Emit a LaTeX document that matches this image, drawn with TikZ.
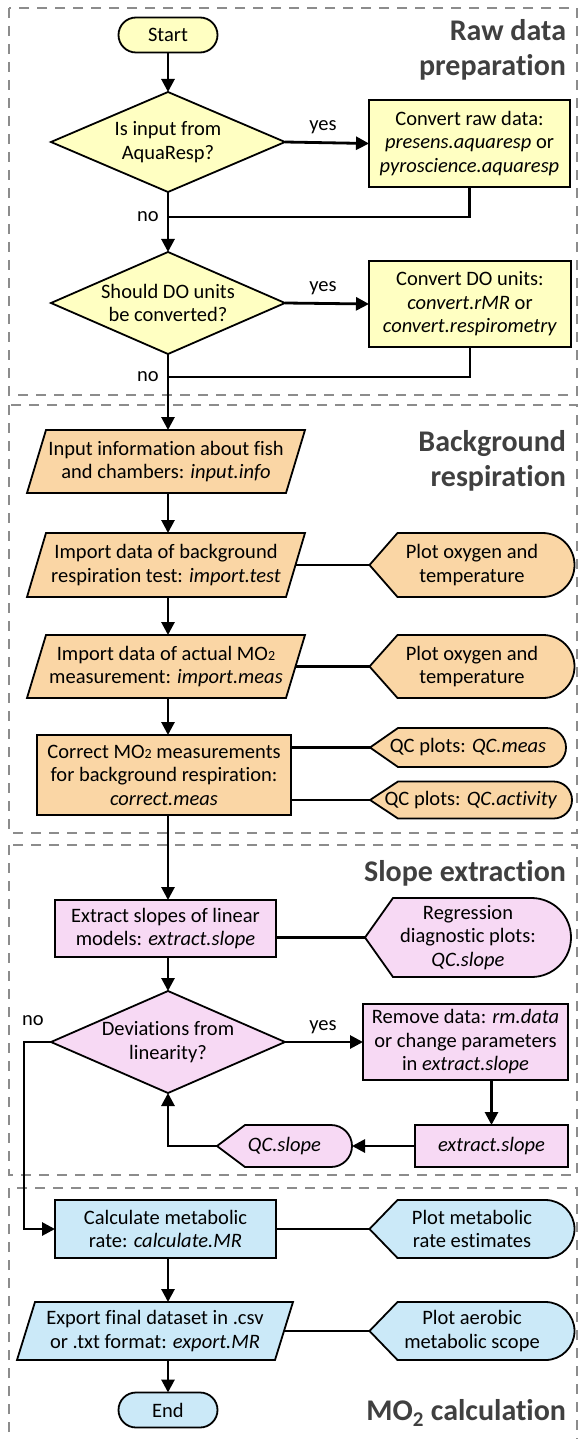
\documentclass[tikz,border=0pt]{standalone}
\usepackage{fontspec}
\setmainfont{Carlito}[Ligatures=NoCommon]
\usetikzlibrary{arrows.meta,shapes.misc,backgrounds}
\definecolor{cyel}{HTML}{FFFFC2}
\definecolor{corg}{HTML}{FAD6A5}
\definecolor{cpnk}{HTML}{F7D9F4}
\definecolor{cblu}{HTML}{CBE9F8}
\definecolor{ctitle}{HTML}{404040}
\definecolor{cframe}{HTML}{8C8C8C}
\newcommand\smtwo{{\fontsize{14}{14}\selectfont 2}}
\newcommand\calloutshape[3]{%
  \draw[outl, fill=#2] (#1.west) -- ([xshift=28pt]#1.north west) -- ([xshift=-#3pt]#1.north east)
    arc[start angle=90, end angle=-90, x radius=#3pt, y radius=#3pt] -- ([xshift=28pt]#1.south west) -- cycle;}
\newcommand\paralshape[3]{%
  \draw[outl, fill=#2] ([xshift=#3pt]#1.north west) -- (#1.north east) -- ([xshift=-#3pt]#1.south east) -- (#1.south west) -- cycle;}
\newcommand\diamshape[2]{%
  \draw[outl, fill=#2] (#1.north) -- (#1.east) -- (#1.south) -- (#1.west) -- cycle;}
\begin{document}
\begin{tikzpicture}[x=1pt,y=-1pt,
  every node/.style={font=\fontsize{20.5}{23.5}\selectfont, align=center, inner sep=0pt, outer sep=0pt},
  box/.style={draw, line width=1.8pt, rectangle},
  pill/.style={draw, line width=1.8pt, rounded rectangle, minimum width=99pt, minimum height=35pt},
  ghost/.style={rectangle, draw=none},
  outl/.style={draw, line width=1.8pt, line join=miter},
  conn/.style={line width=2.8pt},
  arr/.style={conn, -{Triangle[length=13pt,width=13pt]}},
  lab/.style={font=\fontsize{20.5}{23.5}\selectfont},
  ttl/.style={font=\fontsize{30}{35}\selectfont\bfseries, text=ctitle, align=right, anchor=east},
  frm/.style={draw=cframe, line width=2.4pt, dash pattern=on 10pt off 8pt},
]
\useasboundingbox (0,0) rectangle (578,1439);
% frames
\draw[frm] (9,8) rectangle (577,395);
\draw[frm] (9,405) rectangle (577,833);
\draw[frm] (9,845) rectangle (577,1175);
\draw[frm] (9,1450) -- (9,1188) -- (577,1188) -- (577,1450);
% titles
\node[ttl] (t1) at (566,50) {Raw data\\preparation};
\node[ttl] (t2) at (566,461) {Background\\respiration};
\node[ttl] (t3) at (566,873) {Slope extraction};
\node[ttl] (t4) at (566,1413) {MO\textsubscript{2} calculation};
% section 1
\node[pill, fill=cyel] (start) at (168,35) {Start};
\node[ghost, minimum width=234pt, minimum height=100pt] (d1) at (168,142) {Is input from\\AquaResp?};
\node[box, fill=cyel, minimum width=201pt, minimum height=87pt] (b1) at (469.5,143.5) {Convert raw data:\\\textit{presens.aquaresp} or\\\textit{pyroscience.aquaresp}};
\node[ghost, minimum width=234pt, minimum height=102pt] (d2) at (168,303) {Should DO units\\be converted?};
\node[box, fill=cyel, minimum width=202pt, minimum height=86pt] (b2) at (470,304) {Convert DO units:\\\textit{convert.rMR} or\\\textit{convert.respirometry}};
\coordinate (j1) at (168,217);
\coordinate (j2) at (168,377);
% section 2
\node[ghost, minimum width=278pt, minimum height=63pt] (p1) at (166,461.5) {Input information about fish\\and chambers: \textit{input.info}};
\node[ghost, minimum width=278pt, minimum height=64pt] (p2) at (166,565) {Import data of background\\respiration test: \textit{import.test}};
\node[ghost, minimum width=205pt, minimum height=64pt] (c1) at (472,565) {Plot oxygen and\\temperature};
\node[ghost, minimum width=278pt, minimum height=63pt] (p3) at (166,666.5) {Import data of actual MO\smtwo\\measurement: \textit{import.meas}};
\node[ghost, minimum width=205pt, minimum height=63pt] (c2) at (472,666.5) {Plot oxygen and\\temperature};
\node[box, fill=corg, minimum width=254pt, minimum height=80pt] (cor) at (164,775) {Correct MO\smtwo\ measurements\\for background respiration:\\\textit{correct.meas}};
\node[ghost, minimum width=196pt, minimum height=39pt] (qm) at (468,747.5) {QC plots: \textit{QC.meas}};
\node[ghost, minimum width=202pt, minimum height=37pt] (qa) at (471,800) {QC plots: \textit{QC.activity}};
% section 3
\node[box, fill=cpnk, minimum width=221pt, minimum height=57pt] (ex) at (165.5,928.5) {Extract slopes of linear\\models: \textit{extract.slope}};
\node[ghost, minimum width=206pt, minimum height=79pt] (rg) at (468,937.5) {Regression\\diagnostic plots:\\\textit{QC.slope}};
\node[ghost, minimum width=234pt, minimum height=102pt] (d3) at (168,1042) {Deviations from\\linearity?};
\node[box, fill=cpnk, minimum width=205pt, minimum height=76pt] (rm) at (465.5,1042) {Remove data: \textit{rm.data}\\or change parameters\\in \textit{extract.slope}};
\node[box, fill=cpnk, minimum width=153pt, minimum height=42pt] (xs) at (491.5,1146) {\textit{extract.slope}};
\node[ghost, minimum width=135pt, minimum height=42pt] (qs) at (284.5,1146) {\textit{QC.slope}};
\coordinate (nc) at (24,1229);
% section 4
\node[box, fill=cblu, minimum width=221pt, minimum height=58pt] (ca) at (165.5,1229) {Calculate metabolic\\rate: \textit{calculate.MR}};
\node[ghost, minimum width=205pt, minimum height=58pt] (pm) at (472,1229) {Plot metabolic\\rate estimates};
\node[ghost, minimum width=276pt, minimum height=58pt] (xp) at (155,1331) {Export final dataset in .csv\\or .txt format: \textit{export.MR}};
\node[ghost, minimum width=205pt, minimum height=58pt] (pa) at (472,1331) {Plot aerobic\\metabolic scope};
\node[pill, fill=cblu] (end) at (168,1410) {End};
% labels
\node[lab] (y1) at (323,127) {yes};
\node[lab] (n1) at (148,217) {no};
\node[lab] (y2) at (323,288) {yes};
\node[lab] (n2) at (148,377) {no};
\node[lab] (y3) at (323,1027) {yes};
\node[lab] (n3) at (33,1021) {no};
% outlines
\begin{scope}[on background layer]
\diamshape{d1}{cyel}
\diamshape{d2}{cyel}
\diamshape{d3}{cpnk}
\paralshape{p1}{corg}{19}
\paralshape{p2}{corg}{19}
\paralshape{p3}{corg}{19}
\paralshape{xp}{cblu}{18}
\calloutshape{c1}{corg}{32}
\calloutshape{c2}{corg}{31.5}
\calloutshape{qm}{corg}{19.5}
\calloutshape{qa}{corg}{18.5}
\calloutshape{rg}{cpnk}{39.5}
\calloutshape{qs}{cpnk}{21}
\calloutshape{pm}{cblu}{29}
\calloutshape{pa}{cblu}{29}
\end{scope}
% connectors
\draw[arr] (start) -- (d1.north);
\draw[arr] (d1.east) -- (b1.west);
\draw[conn] (b1.south) |- (j1);
\draw[arr] (d1.south) -- (d2.north);
\draw[arr] (d2.east) -- (b2.west);
\draw[conn] (b2.south) |- (j2);
\draw[arr] (d2.south) -- (d2.south |- p1.north);
\draw[arr] (p1.south -| d2.south) -- (p2.north -| d2.south);
\draw[arr] (p2.south -| d2.south) -- (p3.north -| d2.south);
\draw[arr] (p3.south -| d2.south) -- (cor.north -| d2.south);
\draw[arr] (cor.south -| d2.south) -- (ex.north -| d2.south);
\draw[arr] (ex.south -| d3.north) -- (d3.north);
\draw[conn] ([xshift=-9.5pt]p2.east) -- (c1.west);
\draw[conn] ([xshift=-9.5pt]p3.east) -- (c2.west);
\draw[conn] (cor.east |- qm.west) -- (qm.west);
\draw[conn] (cor.east |- qa.west) -- (qa.west);
\draw[conn] (ex.east |- rg.west) -- (rg.west);
\draw[arr] (d3.east) -- (rm.west);
\draw[arr] (rm.south -| xs.north) -- (xs.north);
\draw[arr] (xs.west) -- (qs.east);
\draw[arr] (qs.west) -| (d3.south);
\draw[arr] (d3.west) -| (nc) -- (ca.west);
\draw[arr] (ca.south -| end.north) -- (xp.north -| end.north);
\draw[conn] (ca.east) -- (pm.west);
\draw[arr] (xp.south -| end.north) -- (end.north);
\draw[conn] ([xshift=-9pt]xp.east) -- (pa.west);
\end{tikzpicture}
\end{document}
